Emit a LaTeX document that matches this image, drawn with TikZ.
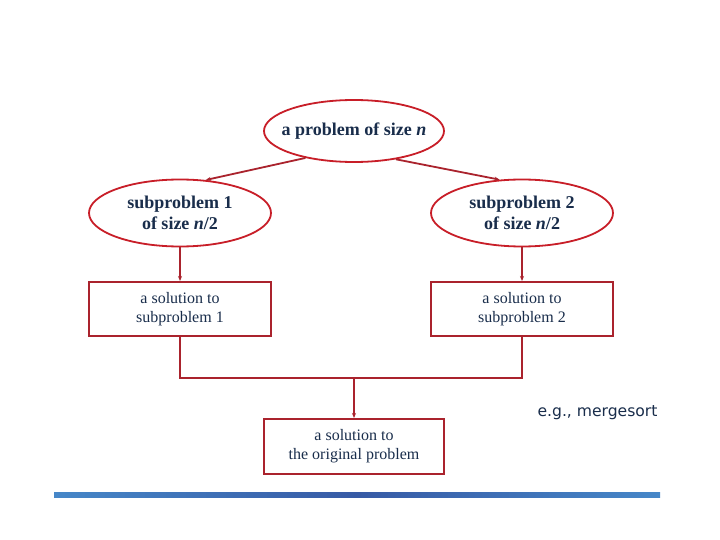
\documentclass[tikz,border=0pt]{standalone}
\usepackage{fontspec}
\setmainfont{Liberation Serif}
\newfontfamily\egfont{DejaVu Sans}
\definecolor{linered}{RGB}{200,30,40}
\definecolor{boxred}{RGB}{170,35,45}
\definecolor{textnavy}{RGB}{25,45,75}
\definecolor{barblue}{RGB}{55,90,165}
\definecolor{barlight}{RGB}{70,135,200}
\usetikzlibrary{arrows.meta, shapes.geometric}

\begin{document}
\begin{tikzpicture}[x=1pt, y=-1pt,
    prob/.style={ellipse, draw=linered, line width=1.8pt, minimum width=180pt,
      minimum height=62pt, inner sep=0pt, align=center, text=textnavy,
      font=\fontsize{18}{21}\selectfont\bfseries},
    sol/.style={draw=boxred, line width=2pt, minimum width=182pt,
      minimum height=54pt, inner sep=0pt, align=center, text=textnavy,
      font=\fontsize{16}{19}\selectfont},
    link/.style={draw=boxred, line width=1.8pt},
    arr/.style={link, -{Stealth[length=5pt,width=4pt]}},
  ]
    \fill[white] (0,0) rectangle (720,540);
    \useasboundingbox (0,0) rectangle (720,540);

    \node[prob] (top) at (354,131) {\makebox[0pt]{a problem of size \textit{n}}};
    \node[prob, minimum width=182pt, minimum height=67pt] (sub1) at (180,213) {subproblem 1\\of size \textit{n}/2};
    \node[prob, minimum width=182pt, minimum height=67pt] (sub2) at (522,213) {subproblem 2\\of size \textit{n}/2};
    \node[sol] (sol1) at (180,309) {a solution to\\subproblem 1};
    \node[sol] (sol2) at (522,309) {a solution to\\subproblem 2};
    \node[sol, minimum width=180pt, minimum height=55pt] (sol0) at (354,446.5) {a solution to\\the original problem};
    \node[text=textnavy, font=\egfont\fontsize{15.6}{18}\selectfont, anchor=west] (eg) at (534,413) {e.g., mergesort};
    \coordinate (mid) at (354,378);

    \draw[arr] (top.209) -- (sub1.52);
    \draw[arr] (top.326) -- (sub2.124);
    \draw[arr] (sub1.south) -- (sol1.north);
    \draw[arr] (sub2.south) -- (sol2.north);
    \draw[link] (sol1.south) |- (mid) -| (sol2.south);
    \draw[arr] (mid) -- (sol0.north);

    % bottom rule
    \shade[left color=barlight, right color=barlight, middle color=barblue] (54,492) rectangle (660,497);
  \end{tikzpicture}
\end{document}
